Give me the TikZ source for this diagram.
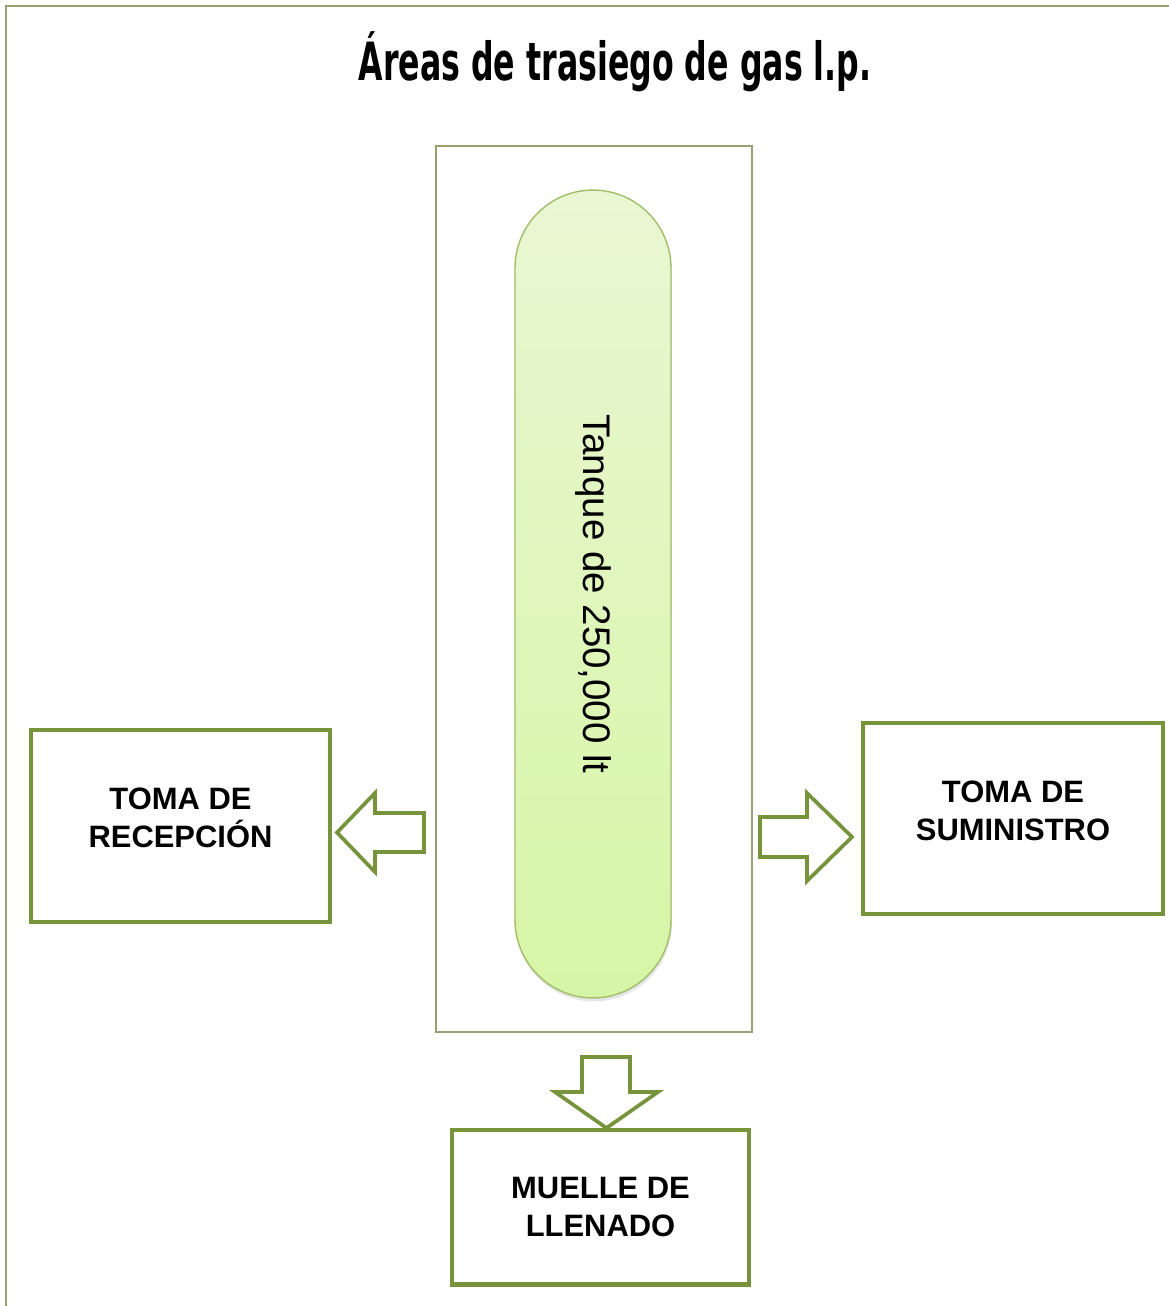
\documentclass[tikz,border=0pt]{standalone}
\usepackage{fontspec}
\setmainfont{Liberation Sans}
\newfontfamily\titlefont{DejaVu Sans}[FakeStretch=0.6]
\usetikzlibrary{shadows}
\definecolor{boxgreen}{HTML}{77933C}
\definecolor{framegray}{HTML}{9A9F74}
\definecolor{tankline}{HTML}{A3BE6A}
\definecolor{tanktop}{HTML}{E9F7D3}
\definecolor{tankbottom}{HTML}{D7F5A6}
\tikzset{font=\fontsize{17.6}{21.5}\selectfont\bfseries}
\tikzset{
  box/.style={draw=boxgreen, line width=2.3pt, fill=white, align=center},
  blockarrow/.style={draw=boxgreen, line width=2.1pt, fill=white, line join=miter},
  tankframe/.style={draw=framegray, line width=0.9pt, minimum width=6.32cm, minimum height=17.72cm},
  tank/.style={draw=tankline, line width=0.8pt, rounded corners=1.56cm,
    minimum width=3.12cm, minimum height=16.16cm, top color=tanktop, bottom color=tankbottom,
    drop shadow={shadow xshift=0.5pt, shadow yshift=-2pt, opacity=0.2}},
}

\begin{document}
\begin{tikzpicture}[x=0.02cm, y=-0.02cm]
  \useasboundingbox (0,0) rectangle (1169,1306);
  \draw[draw=framegray, line width=1.1pt] (6,1306)--(6,6)--(1169,6);

  \node[anchor=base] (title) at (615,80) {\titlefont\fontsize{30}{36}\selectfont Áreas de trasiego de gas l.p.};

  \node[tankframe] (frame) at (594,589) {};
  \node[tank] (tank) at (593,594) {};
  \node[rotate=-90, font=\fontsize{21.9}{26}\selectfont] (tanklabel) at (tank.center) {Tanque de 250,000 lt};

  \node[box, text depth=0.32cm, minimum width=5.98cm, minimum height=3.84cm] (recep) at (180.5,826) {TOMA DE\\RECEPCIÓN};
  \node[box, text depth=0.32cm, minimum width=6cm, minimum height=3.82cm] (sumin) at (1013,818.5) {TOMA DE\\SUMINISTRO};
  \node[box, minimum width=5.94cm, minimum height=3.1cm] (muelle) at (600.5,1207) {MUELLE DE\\LLENADO};

  \draw[blockarrow] (424,813)--(375,813)--(375,793)--(337,832.5)--(375,872)--(375,852)--(424,852)--cycle;
  \draw[blockarrow] (760,817)--(807,817)--(807,793)--(852,837)--(807,881)--(807,857)--(760,857)--cycle;
  \draw[blockarrow] (582,1057)--(630,1057)--(630,1092)--(658,1092)--(606.5,1128)--(555,1092)--(582,1092)--cycle;
\end{tikzpicture}
\end{document}
